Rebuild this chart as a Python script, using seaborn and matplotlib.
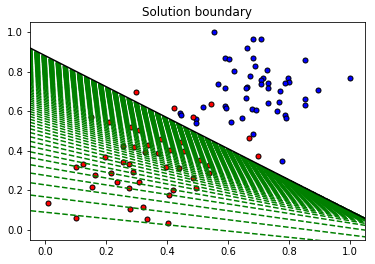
import numpy as np
import matplotlib
matplotlib.use("Agg")
import matplotlib.pyplot as plt
import seaborn as sns

# ---- data ----
red_x = [0.298, 0.422, 0.544, 0.486, 0.669, 0.698, 0.151, 0.211, 0.283, 0.307,
         0.256, 0.292, 0.337, 0.329, 0.369, 0.381, 0.410, 0.447, 0.456, 0.508,
         0.538, 0.539, 0.485, 0.495, 0.398, 0.439, 0.197, 0.256, 0.275, 0.125,
         0.102, 0.163, 0.154, 0.216, 0.236, 0.289, 0.275, 0.308, 0.279, 0.321,
         0.334, 0.403, 0.407, 0.421, 0.010, 0.102]
red_y = [0.695, 0.615, 0.635, 0.570, 0.463, 0.372, 0.571, 0.547, 0.519, 0.503,
         0.424, 0.420, 0.429, 0.392, 0.387, 0.458, 0.404, 0.446, 0.401, 0.354,
         0.328, 0.289, 0.261, 0.211, 0.317, 0.312, 0.367, 0.343, 0.332, 0.333,
         0.317, 0.276, 0.216, 0.286, 0.244, 0.291, 0.211, 0.241, 0.105, 0.118,
         0.054, 0.037, 0.175, 0.200, 0.135, 0.059]

blue_x = [0.554, 0.682, 0.708, 0.662, 0.590, 0.603, 0.682, 0.852, 0.689, 0.620,
          0.728, 0.672, 0.715, 0.708, 0.797, 0.800, 0.788, 1.000, 0.731, 0.708,
          0.567, 0.590, 0.662, 0.659, 0.731, 0.770, 0.895, 0.659, 0.731, 0.767,
          0.852, 0.852, 0.518, 0.590, 0.593, 0.679, 0.692, 0.761, 0.787, 0.790,
          0.646, 0.610, 0.495, 0.495, 0.682, 0.443, 0.447, 0.777]
blue_y = [0.998, 0.963, 0.963, 0.918, 0.867, 0.862, 0.867, 0.857, 0.827, 0.801,
          0.807, 0.776, 0.766, 0.756, 0.766, 0.746, 0.741, 0.766, 0.741, 0.736,
          0.736, 0.716, 0.721, 0.716, 0.716, 0.700, 0.706, 0.665, 0.640, 0.645,
          0.660, 0.630, 0.620, 0.625, 0.615, 0.610, 0.604, 0.600, 0.579, 0.564,
          0.564, 0.544, 0.559, 0.539, 0.483, 0.589, 0.579, 0.347]

# boundary lines during training: value at the left edge (x=-0.05) and right edge (x=1.05)
line_left = [0.098, 0.177, 0.239, 0.288, 0.330, 0.366, 0.395, 0.423, 0.448, 0.471,
             0.492, 0.511, 0.528, 0.544, 0.559, 0.573, 0.586, 0.598, 0.610, 0.621,
             0.632, 0.642, 0.652, 0.661, 0.670, 0.679, 0.687, 0.695, 0.703, 0.710,
             0.717, 0.724, 0.731, 0.737, 0.743, 0.749, 0.755, 0.760, 0.765, 0.770,
             0.775, 0.780, 0.785, 0.789, 0.793, 0.797, 0.801, 0.805, 0.809, 0.813,
             0.816, 0.819, 0.822, 0.825, 0.828, 0.831, 0.834, 0.837, 0.840, 0.842,
             0.845, 0.847, 0.850, 0.852, 0.854, 0.856, 0.858, 0.860, 0.862, 0.864,
             0.866, 0.868, 0.870, 0.872, 0.874, 0.876, 0.877, 0.879, 0.881, 0.882,
             0.884, 0.885, 0.887, 0.888, 0.890, 0.891, 0.893, 0.894, 0.896, 0.897,
             0.899, 0.900, 0.902, 0.903, 0.905, 0.906, 0.908, 0.909, 0.911, 0.912]
line_right = [-0.076, -0.034, 0.000, 0.024, 0.034, 0.040, 0.044, 0.047, 0.049, 0.050,
              0.051, 0.052, 0.053, 0.053, 0.054, 0.054, 0.055, 0.055, 0.055, 0.056,
              0.056, 0.056, 0.056, 0.056, 0.056, 0.056, 0.056, 0.056, 0.056, 0.056,
              0.056, 0.056, 0.056, 0.056, 0.056, 0.056, 0.056, 0.056, 0.056, 0.056,
              0.057, 0.057, 0.057, 0.057, 0.057, 0.057, 0.057, 0.057, 0.057, 0.057,
              0.057, 0.057, 0.057, 0.057, 0.057, 0.057, 0.057, 0.057, 0.057, 0.057,
              0.057, 0.057, 0.057, 0.057, 0.057, 0.057, 0.057, 0.057, 0.057, 0.057,
              0.058, 0.058, 0.058, 0.058, 0.058, 0.058, 0.058, 0.058, 0.058, 0.058,
              0.058, 0.058, 0.058, 0.058, 0.058, 0.058, 0.058, 0.058, 0.058, 0.058,
              0.058, 0.058, 0.058, 0.058, 0.058, 0.058, 0.058, 0.058, 0.058, 0.058]
final_left = 0.919
final_right = 0.059

title = "Solution boundary"

# ---- drawing ----
fig = plt.figure(figsize=(375 / 72, 264 / 72), dpi=72)
ax = fig.add_axes([30 / 375, 24 / 264, 335 / 375, 218 / 264])

sns.scatterplot(x=blue_x, y=blue_y, s=25, color="blue", edgecolor="k",
                linewidth=1.0, ax=ax, legend=False)
sns.scatterplot(x=red_x, y=red_y, s=25, color="red", edgecolor="k",
                linewidth=1.0, ax=ax, legend=False)

xs = np.arange(-10, 10, 0.1)


def draw(left, right, style, **kw):
    m = (right - left) / 1.1
    b = left + 0.05 * m
    ax.plot(xs, m * xs + b, style, **kw)


for lv, rv in zip(line_left, line_right):
    draw(lv, rv, "g--")
draw(final_left, final_right, "black")

ax.set_xlim(-0.05, 1.05)
ax.set_ylim(-0.05, 1.05)
ax.set_title(title, fontsize=12)
ax.tick_params(labelsize=10)

fig.savefig("out.png", dpi=72)
